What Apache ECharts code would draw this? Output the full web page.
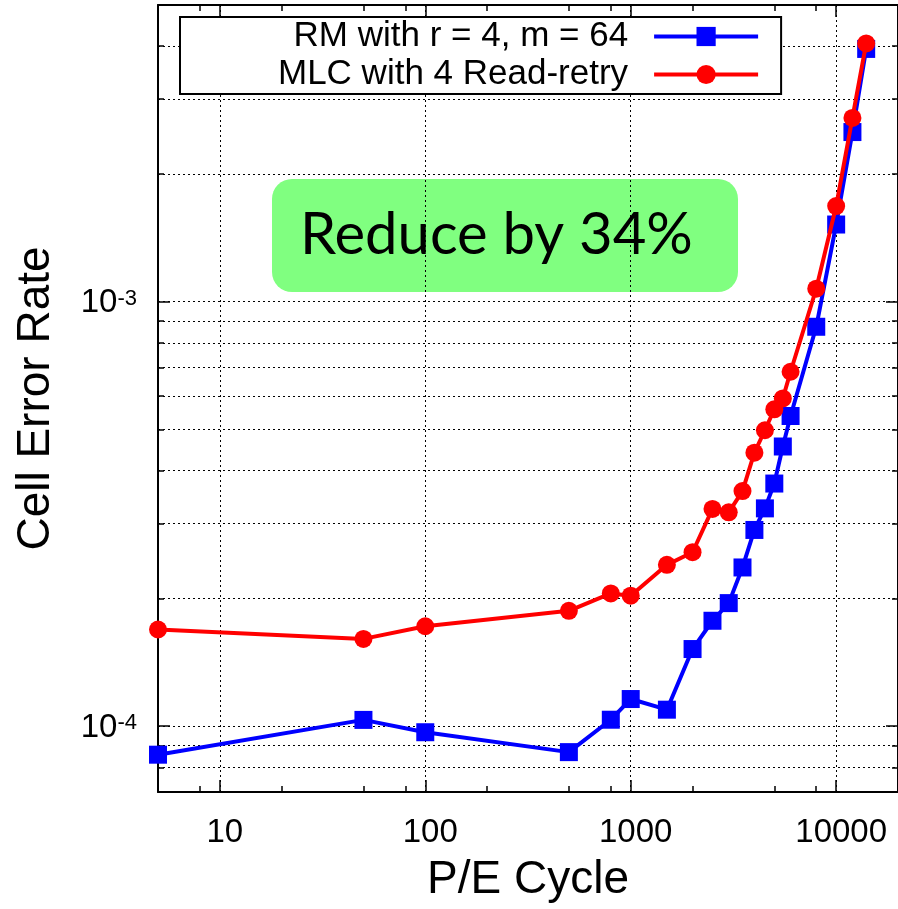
<!DOCTYPE html>
<html><head><meta charset="utf-8">
<script src="https://cdn.jsdelivr.net/npm/echarts@6/dist/echarts.min.js"></script>
<style>html,body{margin:0;padding:0;background:#fff}#c{width:898px;height:909px}</style>
</head><body><div id="c"></div>
<script>
// ---- data ----
const peCycles = [5, 50, 100, 500, 800, 1000, 1500, 2000, 2500, 3000, 3500, 4000, 4500, 5000, 5500, 6000, 8000, 10000, 12000, 14000];
const rmRate  = [8.57e-5, 1.035e-4, 9.68e-5, 8.69e-5, 1.036e-4, 1.159e-4, 1.094e-4, 1.52e-4, 1.772e-4, 1.95e-4, 2.366e-4, 2.90e-4, 3.26e-4, 3.73e-4, 4.56e-4, 5.38e-4, 8.73e-4, 1.52e-3, 2.51e-3, 3.94e-3];
const mlcRate = [1.69e-4, 1.606e-4, 1.72e-4, 1.87e-4, 2.055e-4, 2.03e-4, 2.40e-4, 2.57e-4, 3.25e-4, 3.19e-4, 3.58e-4, 4.41e-4, 4.98e-4, 5.58e-4, 5.92e-4, 6.84e-4, 1.073e-3, 1.68e-3, 2.71e-3, 4.06e-3];
const seriesNames = ['RM with r = 4, m = 64', 'MLC with 4 Read-retry'];
const xMajorTicks = [10, 100, 1000, 10000];
const xMinorTicks = [8, 20, 50, 80, 200, 500, 800, 2000, 5000, 8000];
const yMajorTicks = [1e-4, 1e-3];
const yMinorTicks = [8e-5, 9e-5, 2e-4, 3e-4, 4e-4, 5e-4, 6e-4, 7e-4, 8e-4, 9e-4, 2e-3, 3e-3, 4e-3];
const xRange = [5, 20000];
const yRange = [7e-5, 5e-3];
const annotationText = 'Reduce by 34%';

const FONT = 'Liberation Sans';
const dotted = {type: [2, 3], color: '#000', width: 1};

function xAx(position, major) {
  return {
    type: 'log', logBase: 10, min: xRange[0], max: xRange[1], position: position,
    axisLine: {show: major, lineStyle: {color: '#000', width: 2}},
    axisTick: {show: true, inside: true, length: major ? 12 : 6, customValues: major ? xMajorTicks : xMinorTicks,
               lineStyle: {color: '#000', width: 1.5}},
    axisLabel: (major && position === 'bottom') ? {
      show: true, customValues: xMajorTicks, fontSize: 33, color: '#000', fontFamily: FONT,
      margin: 24, padding: [0, 0, 0, 10], formatter: v => String(Math.round(v))
    } : {show: false},
    splitLine: {show: major && position === 'bottom', lineStyle: dotted},
    minorTick: {show: false}, minorSplitLine: {show: false}
  };
}
function yAx(position, major) {
  return {
    type: 'log', logBase: 10, min: yRange[0], max: yRange[1], position: position,
    axisLine: {show: major, lineStyle: {color: '#000', width: 2}},
    axisTick: {show: true, inside: true, length: major ? 12 : 6, customValues: major ? yMajorTicks : yMinorTicks,
               lineStyle: {color: '#000', width: 1.5}},
    axisLabel: (major && position === 'left') ? {
      show: true, customValues: yMajorTicks, margin: 21, color: '#000', fontFamily: FONT, fontSize: 33,
      formatter: v => '{b|10}{s|' + Math.round(Math.log10(v)) + '}',
      rich: {
        b: {fontSize: 33, lineHeight: 36, verticalAlign: 'bottom', fontFamily: FONT, color: '#000'},
        s: {fontSize: 22, lineHeight: 22, verticalAlign: 'top', padding: [4, 0, 21, 0], fontFamily: FONT, color: '#000'}
      }
    } : {show: false},
    splitLine: {show: position === 'left', lineStyle: dotted},
    minorTick: {show: false}, minorSplitLine: {show: false}
  };
}

const chart = echarts.init(document.getElementById('c'), null, {renderer: 'canvas'});
const xAxes = [xAx('bottom', true), xAx('top', true), xAx('bottom', false), xAx('top', false)];
xAxes[0].name = 'P/E Cycle';
xAxes[0].nameLocation = 'middle';
xAxes[0].nameGap = 65;
xAxes[0].nameTextStyle = {fontSize: 46, fontFamily: FONT, color: '#000'};
const yAxes = [yAx('left', true), yAx('right', true), yAx('left', false), yAx('right', false)];
yAxes[0].name = 'Cell Error Rate';
yAxes[0].nameLocation = 'middle';
yAxes[0].nameGap = 99;
yAxes[0].nameTextStyle = {fontSize: 46, fontFamily: FONT, color: '#000'};

chart.setOption({
  animation: false,
  backgroundColor: '#fff',
  grid: {left: 158, top: 5, width: 741, height: 787, containLabel: false},
  xAxis: xAxes,
  yAxis: yAxes,
  legend: {
    orient: 'vertical', align: 'right', left: 180, top: 17,
    padding: [2, 21, 2, 98], itemGap: 3, itemWidth: 104, itemHeight: 24,
    borderColor: '#000', borderWidth: 2, backgroundColor: '#fff',
    lineStyle: {width: 4},
    formatter: n => '{a|' + n + '}',
    textStyle: {fontSize: 35, color: '#000', fontFamily: FONT,
      rich: {a: {fontSize: 35, color: '#000', fontFamily: FONT, padding: [0, 21, 0, 0]}}},
    data: seriesNames
  },
  graphic: [{
    type: 'group', z: 10,
    children: [
      {type: 'rect', shape: {x: 272, y: 179, width: 466, height: 113, r: 20}, style: {fill: '#80ff80'}},
      {type: 'text', x: 300, y: 235, style: {text: annotationText, fontSize: 58, fontFamily: 'Lato', fill: '#000', align: 'left', verticalAlign: 'middle'}}
    ]
  }],
  series: [
    {
      name: seriesNames[0], type: 'line', xAxisIndex: 0, yAxisIndex: 0, clip: false, z: 3,
      data: peCycles.map((x, i) => [x, rmRate[i]]),
      symbol: 'rect', symbolSize: 18,
      lineStyle: {color: '#0000ff', width: 4}, itemStyle: {color: '#0000ff'}
    },
    {
      name: seriesNames[1], type: 'line', xAxisIndex: 0, yAxisIndex: 0, clip: false, z: 4,
      data: peCycles.map((x, i) => [x, mlcRate[i]]),
      symbol: 'circle', symbolSize: 18,
      lineStyle: {color: '#ff0000', width: 4}, itemStyle: {color: '#ff0000'}
    }
  ]
});
</script></body></html>
